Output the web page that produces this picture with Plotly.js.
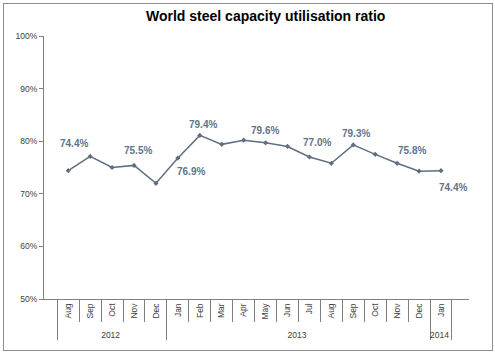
<!DOCTYPE html>
<html><head><meta charset="utf-8">
<script src="https://cdn.plot.ly/plotly-3.0.1.min.js"></script>
<style>
html,body{margin:0;padding:0;background:#fff;}
#wrap{position:relative;width:495px;height:355px;}
#chart{width:495px;height:355px;}
#frame{position:absolute;left:3px;top:3px;width:488px;height:346px;border:1px solid #8c8c8c;pointer-events:none;}
</style></head>
<body>
<div id="wrap"><div id="chart"></div><div id="frame"></div></div>
<script>
const years = ["2012","2012","2012","2012","2012","2013","2013","2013","2013","2013","2013","2013","2013","2013","2013","2013","2013","2014"];
const months = ["Aug","Sep","Oct","Nov","Dec","Jan","Feb","Mar","Apr","May","Jun","Jul","Aug","Sep","Oct","Nov","Dec","Jan"];
const ratio = [74.4,77.1,75.0,75.4,72.0,76.8,81.1,79.4,80.2,79.7,79.0,77.0,75.8,79.3,77.5,75.8,74.3,74.4];
const labels = ["74.4%","","","75.5%","","76.9%","79.4%","","","79.6%","","77.0%","","79.3%","","75.8%","","74.4%"];
const labelDx = [6,0,0,4,0,13,3,0,0,-1,0,8,0,3,0,15,0,12];
const labelDy = [27,0,0,15,0,-13,11,0,0,12,0,14,0,11,0,13,0,-17];

// keep month labels unique across years so the multicategory axis keeps time order
const seenMonths = {};
const monthKeys = months.map((m,i)=>{
  const k = seenMonths[m] !== undefined && seenMonths[m] !== years[i] ? m + '\u200B' : m;
  if(seenMonths[m] === undefined) seenMonths[m] = years[i];
  return k;
});

const annotations = [];
labels.forEach((t,i)=>{
  if(!t) return;
  annotations.push({x:i, y:ratio[i]/100, xref:'x', yref:'y', text:t, showarrow:false,
    xshift:labelDx[i], yshift:labelDy[i],
    font:{family:'Liberation Sans, Arial, sans-serif', size:10, color:'#62748c', weight:'bold'}});
});
annotations.push({text:'World steel capacity utilisation ratio', xref:'paper', yref:'paper', x:0.522, y:1, yshift:10, yanchor:'bottom', showarrow:false,
  font:{family:'Liberation Sans, Arial, sans-serif', size:14, color:'#000', weight:'bold'}});

const trace = {
  x:[years, monthKeys], y:ratio.map(v=>v/100), type:'scatter', mode:'lines+markers',
  line:{color:'#5f6f7f', width:1.5},
  marker:{symbol:'diamond', size:4, color:'#5f6f7f'},
  hoverinfo:'skip'
};
const layout = {
  width:495, height:355,
  margin:{l:44, r:26, t:36, b:56},
  paper_bgcolor:'#fff', plot_bgcolor:'#fff',
  showlegend:false,
  font:{family:'Liberation Sans, Arial, sans-serif', size:8.5, color:'#404040'},
  xaxis:{type:'multicategory', showline:true, linecolor:'#808080', linewidth:1,
    ticks:'outside', ticklen:22, tickcolor:'#808080', tickangle:-90,
    showdividers:true, dividercolor:'#808080', dividerwidth:1,
    tickfont:{size:8.5, color:'#404040'}, showgrid:false, zeroline:false},
  yaxis:{range:[0.5,1.0], tickvals:[0.5,0.6,0.7,0.8,0.9,1.0], tickformat:'.0%',
    showline:true, linecolor:'#808080', linewidth:1, ticks:'outside', ticklen:4, tickcolor:'#808080',
    showgrid:false, zeroline:false, tickfont:{size:8.5, color:'#404040'}},
  annotations:annotations
};
Plotly.newPlot('chart',[trace],layout,{staticPlot:true});
</script>
</body></html>
